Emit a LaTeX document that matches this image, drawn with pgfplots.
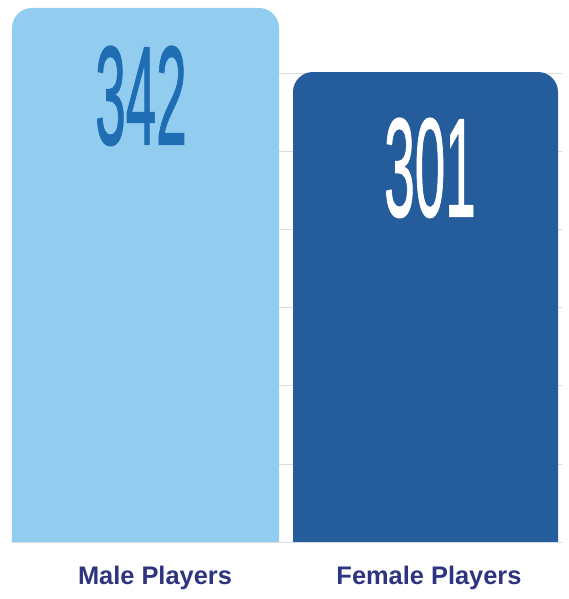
\documentclass[border=0pt]{standalone}
\usepackage{pgfplots}
\pgfplotsset{compat=1.18}
\usepackage{fontspec}
\setmainfont{Liberation Sans}
\newfontfamily\numfont[FakeBold=1.2]{Liberation Sans}
\definecolor{lightbar}{HTML}{92CDF0}
\definecolor{darkbar}{HTML}{245C9C}
\definecolor{numblue}{HTML}{1F6DB3}
\definecolor{navy}{HTML}{2E3480}
\definecolor{gridc}{HTML}{DCDCDC}
\begin{document}
\begin{tikzpicture}
\begin{axis}[
  scale only axis,
  width=550bp, height=542bp,
  xmin=12, xmax=562, ymin=0, ymax=347.12,
  axis line style={draw=none},
  tick style={draw=none},
  ytick={0,50,...,300},
  yticklabels={},
  ymajorgrids,
  grid style={gridc, line width=0.8pt},
  xtick={155,429},
  xticklabels={Male Players, Female Players},
  xticklabel style={font=\bfseries\fontsize{25.5}{25.5}\selectfont, text=navy, anchor=north, inner sep=0pt, yshift=-24bp},
]
\addplot[fill=lightbar, draw=none, rounded corners=20bp] coordinates {(12,-40) (12,342) (279,342) (279,-40)} -- cycle;
\addplot[fill=darkbar, draw=none, rounded corners=20bp] coordinates {(293,-40) (293,301) (558,301) (558,-40)} -- cycle;
\node[anchor=north, inner sep=0pt, text=numblue, yshift=-38bp] at (axis cs:141,342) {\scalebox{0.39}[1]{\numfont\fontsize{141}{141}\selectfont 342}};
\node[anchor=north, inner sep=0pt, text=white, yshift=-46bp] at (axis cs:430,301) {\scalebox{0.39}[1]{\numfont\fontsize{141}{141}\selectfont 301}};
\end{axis}
\pgfresetboundingbox
\path[use as bounding box] (-12bp,-57bp) rectangle (557bp,542bp);
\end{tikzpicture}
\end{document}
